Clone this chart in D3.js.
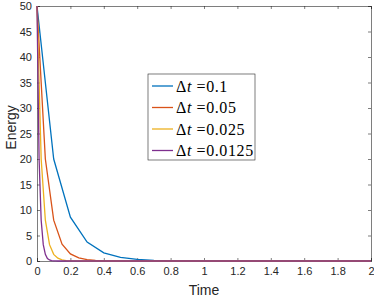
<!DOCTYPE html>
<html>
<head>
<meta charset="utf-8">
<script src="https://cdn.jsdelivr.net/npm/d3@7"></script>
<style>
  body { margin: 0; background: #fff; }
  svg { font-family: "Liberation Sans", Arial, sans-serif; }
  .axis text { fill: #262626; font-size: 11px; }
  .axis path, .axis line { stroke: #262626; stroke-width: 0.6; }
</style>
</head>
<body>
<svg width="374" height="299"></svg>
<script>
// energy decay, one array per time step
var dtLabels = ["0.1", "0.05", "0.025", "0.0125"];
var steps = [0.1, 0.05, 0.025, 0.0125];
var colors = ["#0072BD", "#D95319", "#EDB120", "#7E2F8E"];
// first values of each run (the rest sit on zero up to t = 2)
var energyHead = [
  [50, 20, 8.6, 3.7, 1.6, 0.7, 0.3, 0.12, 0.05, 0.02, 0.01],
  [50, 20, 8, 3.3, 1.4, 0.6, 0.25, 0.1, 0.04, 0.02, 0.01],
  [50, 20, 8, 3.2, 1.3, 0.55, 0.22, 0.09, 0.04, 0.02, 0.01],
  [50, 20, 8, 3.2, 1.3, 0.5, 0.2, 0.08, 0.03, 0.01, 0]
];
var xTicks = [0, 0.2, 0.4, 0.6, 0.8, 1, 1.2, 1.4, 1.6, 1.8, 2];
var yTicks = [0, 5, 10, 15, 20, 25, 30, 35, 40, 45, 50];

var svg = d3.select("svg"),
    margin = {top: 6, right: 3, bottom: 38, left: 37},
    width = +svg.attr("width") - margin.left - margin.right,
    height = +svg.attr("height") - margin.top - margin.bottom,
    g = svg.append("g").attr("transform", "translate(" + margin.left + "," + margin.top + ")");

var x = d3.scaleLinear().domain([0, 2]).range([0, width]);
var y = d3.scaleLinear().domain([0, 50]).range([height, 0]);

var series = steps.map(function (dt, i) {
  var n = Math.round(2 / dt);
  var pts = [];
  for (var k = 0; k <= n; k++) {
    pts.push({t: k * dt, e: k < energyHead[i].length ? energyHead[i][k] : 0});
  }
  return pts;
});

g.append("g")
    .attr("class", "axis")
    .attr("transform", "translate(0," + height + ")")
    .call(d3.axisBottom(x).tickValues(xTicks).tickSize(-3).tickPadding(6).tickFormat(d3.format("")));
g.append("g")
    .attr("class", "axis")
    .call(d3.axisTop(x).tickValues(xTicks).tickSize(-3).tickFormat(""));
g.append("g")
    .attr("class", "axis")
    .call(d3.axisLeft(y).tickValues(yTicks).tickSize(-3).tickPadding(5));
g.append("g")
    .attr("class", "axis")
    .attr("transform", "translate(" + width + ",0)")
    .call(d3.axisRight(y).tickValues(yTicks).tickSize(-3).tickFormat(""));

var line = d3.line()
    .x(function (d) { return x(d.t); })
    .y(function (d) { return y(d.e); });

g.selectAll(".series")
  .data(series)
  .enter().append("path")
    .attr("class", "series")
    .attr("fill", "none")
    .attr("stroke", function (d, i) { return colors[i]; })
    .attr("stroke-width", 1.3)
    .attr("d", line);

g.append("text")
    .attr("text-anchor", "middle")
    .attr("x", width / 2)
    .attr("y", height + 34)
    .style("font-size", "14px")
    .style("fill", "#262626")
    .text("Time");

g.append("text")
    .attr("text-anchor", "middle")
    .attr("transform", "rotate(-90)")
    .attr("x", -height / 2 + 6)
    .attr("y", -21)
    .style("font-size", "14px")
    .style("fill", "#262626")
    .text("Energy");

// legend
var legend = svg.append("g").attr("transform", "translate(148,74)");
legend.append("rect")
    .attr("width", 107)
    .attr("height", 86)
    .attr("fill", "#fff")
    .attr("stroke", "#262626")
    .attr("stroke-width", 0.6);

var item = legend.selectAll(".item")
  .data(dtLabels)
  .enter().append("g")
    .attr("class", "item")
    .attr("transform", function (d, i) { return "translate(0," + (12 + i * 21.5) + ")"; });

item.append("line")
    .attr("x1", 4).attr("x2", 25)
    .attr("stroke", function (d, i) { return colors[i]; })
    .attr("stroke-width", 1.3);

var label = item.append("text")
    .attr("x", 28)
    .attr("dy", "0.35em")
    .style("font-family", "'Liberation Serif', 'DejaVu Serif', serif")
    .style("font-size", "16px")
    .style("letter-spacing", "0.6px")
    .style("fill", "#000");
label.append("tspan").text("Δ");
label.append("tspan").style("font-style", "italic").text("t ");
label.append("tspan").text(function (d) { return "=" + d; });
</script>
</body>
</html>
